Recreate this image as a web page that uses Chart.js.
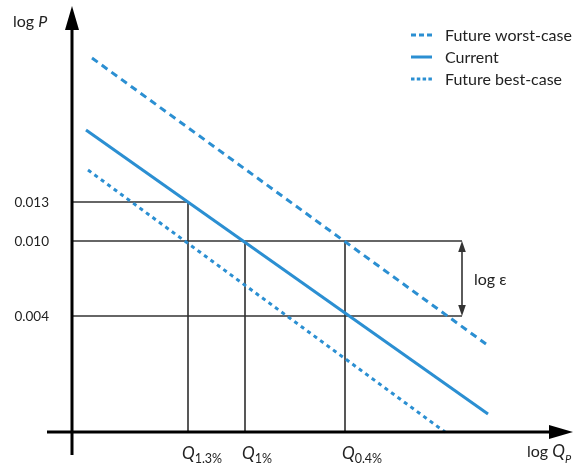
<!DOCTYPE html>
<html>
<head>
<meta charset="utf-8">
<script src="https://cdn.jsdelivr.net/npm/chart.js@4.4.1/dist/chart.umd.min.js"></script>
<style>
  html, body { margin: 0; padding: 0; background: #ffffff; }
  #wrap { width: 573px; height: 466px; }
</style>
</head>
<body>
<div id="wrap"><canvas id="c" width="573" height="466"></canvas></div>
<script>
// ---- data (schematic units: x = log Q, y = log P) ----
const seriesNames = ['Future worst-case', 'Current', 'Future best-case'];
const worstX   = [4.0, 82.8];
const worstY   = [93.5, 22.0];
const currentX = [2.8, 83.2];
const currentY = [75.5, 4.5];
const bestX    = [3.2, 74.6];
const bestY    = [65.5, 0.0];

const pLevels  = [57.5, 47.75, 29.0];          // y positions of labelled P values
const pLabels  = ['0.013', '0.010', '0.004'];
const pLineEnd = [23.2, 78.0, 78.0];           // x where each horizontal guide stops

const qLevels  = [23.2, 34.6, 54.6];           // x positions of labelled Q values
const qSubs    = ['1.3%', '1%', '0.4%'];
const qLineTop = [57.5, 47.75, 47.75];         // y where each vertical guide stops

const epsX     = 78.0;                          // log ε double arrow position
const epsRange = [47.75, 29.0];

const X_MIN = 0, X_MAX = 100, Y_MIN = 0, Y_MAX = 106;

const BLUE = '#2b8fd2';
const GUIDE = '#333333';
const FONT = 'Lato, "Open Sans", "DejaVu Sans", sans-serif';

function pts(xs, ys) { return xs.map((x, i) => ({ x: x, y: ys[i] })); }

const datasets = [
  { label: seriesNames[0], data: pts(worstX, worstY), borderColor: BLUE, borderWidth: 3, borderDash: [7, 5], clip: false },
  { label: seriesNames[1], data: pts(currentX, currentY), borderColor: BLUE, borderWidth: 3, clip: false },
  { label: seriesNames[2], data: pts(bestX, bestY), borderColor: BLUE, borderWidth: 3, borderDash: [4, 4], clip: false }
];
pLevels.forEach((p, i) => {
  datasets.push({ label: 'gp' + i, data: [{ x: X_MIN, y: p }, { x: pLineEnd[i], y: p }], borderColor: GUIDE, borderWidth: 1.6, clip: false });
});
qLevels.forEach((q, i) => {
  datasets.push({ label: 'gq' + i, data: [{ x: q, y: Y_MIN }, { x: q, y: qLineTop[i] }], borderColor: '#111111', borderWidth: 1.4, clip: false });
});
datasets.forEach(d => { d.showLine = true; d.pointRadius = 0; d.pointHoverRadius = 0; d.fill = false; d.tension = 0; });

function arrowHead(ctx, tipX, tipY, dirX, dirY, len, half) {
  const bx = tipX - dirX * len, by = tipY - dirY * len;
  const nx = -dirY, ny = dirX;
  ctx.beginPath();
  ctx.moveTo(tipX, tipY);
  ctx.lineTo(bx + nx * half, by + ny * half);
  ctx.lineTo(bx - nx * half, by - ny * half);
  ctx.closePath();
  ctx.fill();
}

const decor = {
  id: 'decor',
  afterDatasetsDraw(chart) {
    const ctx = chart.ctx;
    const xs = chart.scales.x, ys = chart.scales.y;
    const x0 = xs.getPixelForValue(X_MIN), y0 = ys.getPixelForValue(Y_MIN);
    const yTop = ys.getPixelForValue(Y_MAX), xRight = xs.getPixelForValue(X_MAX);
    ctx.save();
    // axes
    ctx.strokeStyle = '#000'; ctx.fillStyle = '#000'; ctx.lineWidth = 3; ctx.lineCap = 'butt';
    ctx.beginPath(); ctx.moveTo(x0, y0 + 23); ctx.lineTo(x0, yTop + 20); ctx.stroke();
    arrowHead(ctx, x0, yTop - 2, 0, -1, 24, 7);
    ctx.beginPath(); ctx.moveTo(x0 - 25, y0); ctx.lineTo(xRight - 18, y0); ctx.stroke();
    arrowHead(ctx, xRight + 1, y0, 1, 0, 24, 7);

    // log ε double arrow
    const ex = xs.getPixelForValue(epsX);
    const ea = ys.getPixelForValue(epsRange[0]), eb = ys.getPixelForValue(epsRange[1]);
    ctx.strokeStyle = GUIDE; ctx.fillStyle = GUIDE; ctx.lineWidth = 1.6;
    ctx.beginPath(); ctx.moveTo(ex, ea + 8); ctx.lineTo(ex, eb - 8); ctx.stroke();
    arrowHead(ctx, ex, ea, 0, -1, 11, 3.8);
    arrowHead(ctx, ex, eb, 0, 1, 11, 3.8);
    ctx.fillStyle = '#222';
    ctx.font = '16px ' + FONT; ctx.textAlign = 'left'; ctx.textBaseline = 'middle';
    ctx.fillText('log ε', ex + 12, (ea + eb) / 2 + 1);

    // y tick labels (from the y scale)
    ctx.font = '13.5px ' + FONT; ctx.textAlign = 'right'; ctx.textBaseline = 'middle';
    pLevels.forEach((p, i) => {
      ctx.fillText(pLabels[i], x0 - 23, ys.getPixelForValue(p) + 1);
    });
    ctx.textAlign = 'left';

    // axis titles
    ctx.textBaseline = 'alphabetic';
    ctx.font = '16px ' + FONT;
    ctx.fillText('log ', 13, 27);
    let w = ctx.measureText('log ').width;
    ctx.font = 'italic 16px ' + FONT;
    ctx.fillText('P', 13 + w, 27);

    ctx.font = '16px ' + FONT;
    ctx.fillText('log ', 527, 457);
    w = ctx.measureText('log ').width;
    ctx.font = 'italic 17px ' + FONT;
    ctx.fillText('Q', 527 + w, 457);
    let wq = ctx.measureText('Q').width;
    ctx.font = 'italic 11px ' + FONT;
    ctx.fillText('P', 527 + w + wq, 463);

    // Q tick labels
    qLevels.forEach((q, i) => {
      const px = xs.getPixelForValue(q) - (i === 0 ? 6 : 3);
      ctx.font = 'italic 17px ' + FONT;
      ctx.fillText('Q', px, 459);
      const qw = ctx.measureText('Q').width;
      ctx.font = '12.5px ' + FONT;
      ctx.fillText(qSubs[i], px + qw, 463);
    });

    // legend
    const legY = [35, 57, 79];
    const dashes = [[5, 3], [], [3.5, 2.3]];
    seriesNames.forEach((name, i) => {
      ctx.strokeStyle = BLUE; ctx.lineWidth = 3; ctx.setLineDash(dashes[i]);
      ctx.beginPath(); ctx.moveTo(411, legY[i]); ctx.lineTo(432, legY[i]); ctx.stroke();
      ctx.setLineDash([]);
      ctx.fillStyle = '#222'; ctx.font = '16px ' + FONT; ctx.textBaseline = 'middle';
      ctx.fillText(name, 445, legY[i] + 1);
    });
    ctx.restore();
  }
};

new Chart(document.getElementById('c'), {
  type: 'scatter',
  data: { datasets: datasets },
  options: {
    responsive: false,
    devicePixelRatio: 1,
    animation: false,
    events: [],
    layout: { padding: { top: 8, right: 1, bottom: 34, left: 72 } },
    plugins: { legend: { display: false }, tooltip: { enabled: false } },
    scales: {
      x: { type: 'linear', min: X_MIN, max: X_MAX, display: false },
      y: { type: 'linear', min: Y_MIN, max: Y_MAX, display: false }
    }
  },
  plugins: [decor]
});
</script>
</body>
</html>
